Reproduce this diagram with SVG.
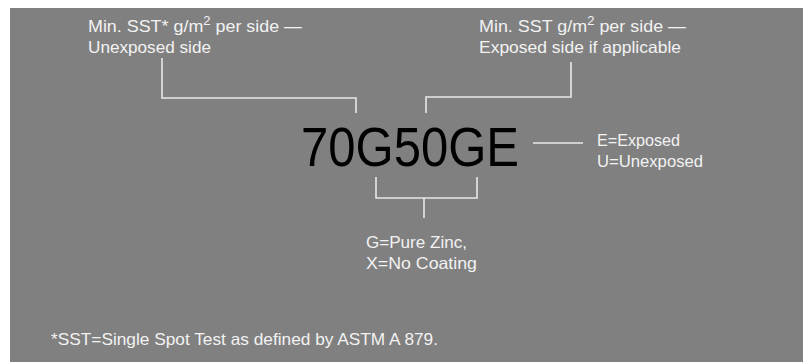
<svg xmlns="http://www.w3.org/2000/svg" width="805" height="362" viewBox="0 0 805 362">
<style>
.lbl{font-family:"Liberation Sans",Arial,sans-serif;font-size:16.5px;fill:#f2f2f2}
.foot{font-family:"Liberation Sans",Arial,sans-serif;font-size:16.5px;fill:#f2f2f2}
.big{font-family:"Liberation Sans",Arial,sans-serif;font-size:56px;fill:#000}
.ln{fill:none;stroke:#e8e8e8;stroke-width:1.6}
</style>
<rect x="0" y="0" width="805" height="362" fill="#ffffff"/>
<rect x="10" y="8" width="793" height="360" fill="#808080"/>
<g id="code"><text class="big" x="301" y="166" textLength="218" lengthAdjust="spacingAndGlyphs">70G50GE</text></g>
<g id="unexposed-label">
<text class="lbl" x="88" y="32" textLength="214" lengthAdjust="spacingAndGlyphs">Min. SST* g/m<tspan font-size="12" dy="-7">2</tspan><tspan dy="7"> per side —</tspan></text>
<text class="lbl" x="88" y="53" textLength="123" lengthAdjust="spacingAndGlyphs">Unexposed side</text>
</g>
<g id="exposed-label">
<text class="lbl" x="479" y="32" textLength="207" lengthAdjust="spacingAndGlyphs">Min. SST g/m<tspan font-size="12" dy="-7">2</tspan><tspan dy="7"> per side —</tspan></text>
<text class="lbl" x="479" y="53" textLength="202" lengthAdjust="spacingAndGlyphs">Exposed side if applicable</text>
</g>
<g id="eu-label">
<text class="lbl" x="597" y="146" textLength="83" lengthAdjust="spacingAndGlyphs">E=Exposed</text>
<text class="lbl" x="597" y="167" textLength="106" lengthAdjust="spacingAndGlyphs">U=Unexposed</text>
</g>
<g id="gx-label">
<text class="lbl" x="366" y="248" textLength="101" lengthAdjust="spacingAndGlyphs">G=Pure Zinc,</text>
<text class="lbl" x="366" y="269" textLength="111" lengthAdjust="spacingAndGlyphs">X=No Coating</text>
</g>
<g id="footnote"><text class="foot" x="51" y="345" textLength="387" lengthAdjust="spacingAndGlyphs">*SST=Single Spot Test as defined by ASTM A 879.</text></g>
<g id="connectors">
<polyline class="ln" points="162,58 162,98 356,98 356,113"/>
<polyline class="ln" points="571,62 571,97 426,97 426,113"/>
<line class="ln" x1="533" y1="143" x2="583" y2="143"/>
<polyline class="ln" points="376,177 376,198 477,198 477,177"/>
<line class="ln" x1="424" y1="198" x2="424" y2="218"/>
</g>
</svg>
